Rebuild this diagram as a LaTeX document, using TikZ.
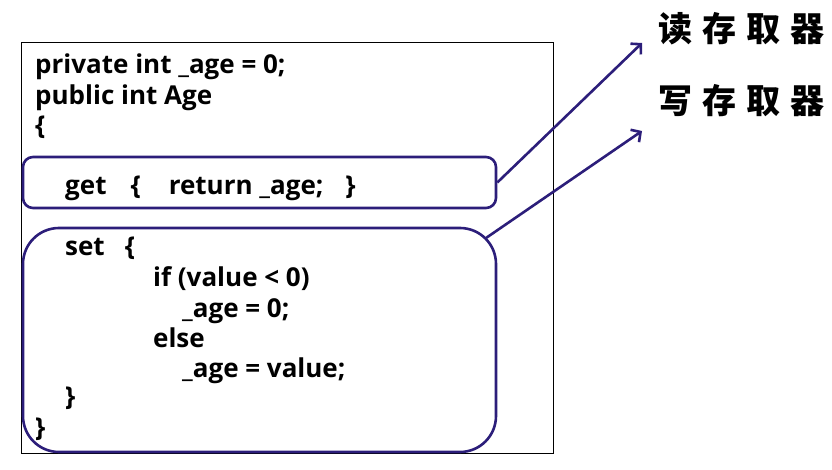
\documentclass[tikz,border=0pt]{standalone}
\usepackage{fontspec}
\setmainfont{Open Sans}
\newfontfamily\cjk{Noto Sans CJK SC}
\usetikzlibrary{arrows.meta}
\definecolor{boxblue}{RGB}{44,30,122}
\begin{document}
\begin{tikzpicture}[x=1pt,y=-1pt]

    \tikzset{
      code/.style={
        anchor=base west,
        inner sep=0pt,
        font=\fontsize{26}{26}\selectfont\bfseries,
      },
      accbox/.style={
        draw=boxblue,
        line width=2.6pt,
        minimum width=473pt,
      },
      pointer/.style={
        draw=boxblue,
        line width=2.6pt,
        -{Straight Barb[length=7pt,width=15pt]},
      },
      label/.style={
        anchor=west,
        inner sep=0pt,
        font=\fontsize{34}{34}\selectfont\cjk\bfseries,
      },
    }
    \useasboundingbox (0,0) rectangle (832,470);
    \draw[line width=1pt] (21,43) rectangle (553,453);
    % the two accessors
	\node (getbox) [accbox, rounded corners=10pt, minimum height=51pt] at (259.5,182.5) {};
	\node (setbox) [accbox, rounded corners=36pt, minimum height=224pt] at (259.5,340) {};
	\coordinate (setcorner) at (486,238);
    % the code
	\node (l1) [code] at (35,74) {private int \_age = 0;};
	\node (l2) [code] at (35,105) {public int Age};
	\node (l3) [code] at (35,135) {\{};
	\node (lget) [code] at (65,195) {get\hspace{24pt}\{\hspace{28pt}return \_age;\hspace{22pt}\}};
	\node (lset) [code] at (65,256) {set\hspace{20pt}\{};
	\node (lif) [code] at (153,287) {if (value < 0)};
	\node (lzero) [code] at (182,317) {\_age = 0;};
	\node (lelse) [code] at (153,347) {else};
	\node (lval) [code] at (182,377) {\_age = value;};
	\node (lend) [code] at (65,405) {\}};
	\node (lclose) [code] at (35,436) {\}};
    % the names
	\node (reader) [label] at (658,29) {读\hspace{10pt}存\hspace{10pt}取\hspace{10pt}器};
	\node (writer) [label] at (658,101) {写\hspace{10pt}存\hspace{10pt}取\hspace{10pt}器};
	\coordinate (readtip) at (642,43);
	\coordinate (writetip) at (642,131);
	\draw[pointer] (getbox.east) -- (readtip);
	\draw[pointer] (setcorner) -- (writetip);

\end{tikzpicture}
\end{document}
